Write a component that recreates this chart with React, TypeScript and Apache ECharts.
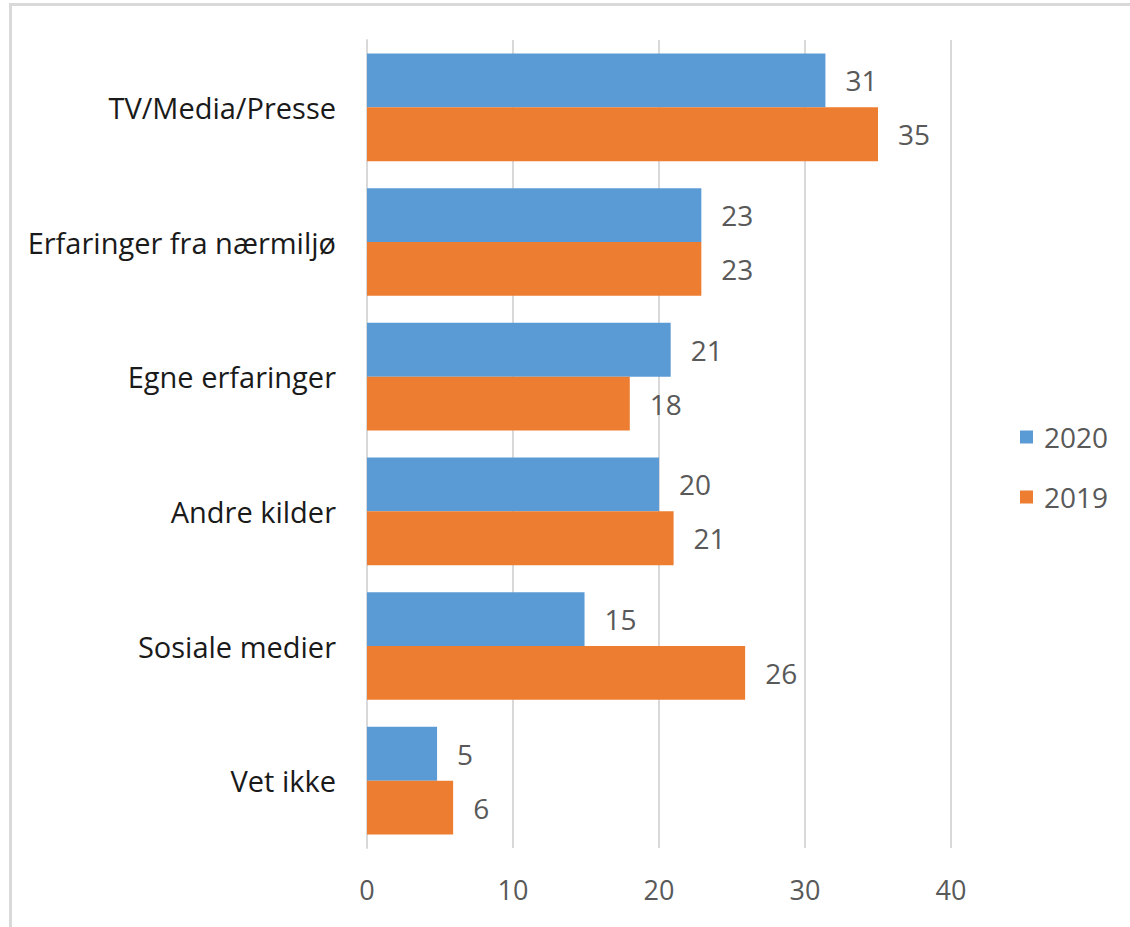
import React, { useEffect, useRef } from "react";
import * as echarts from "echarts";

const categories = [
  "TV/Media/Presse",
  "Erfaringer fra nærmiljø",
  "Egne erfaringer",
  "Andre kilder",
  "Sosiale medier",
  "Vet ikke",
];
const values2020 = [31.4, 22.9, 20.8, 20.0, 14.9, 4.8];
const values2019 = [35.0, 22.9, 18.0, 21.0, 25.9, 5.9];
const seriesNames = ["2020", "2019"];
const xTicks = [0, 10, 20, 30, 40];

const FONT = "'Open Sans', 'Noto Sans', sans-serif";

export default function App() {
  const ref = useRef<HTMLDivElement>(null);
  useEffect(() => {
    document.body.style.margin = "0";
    const chart = echarts.init(ref.current!, null, { renderer: "svg" });
    const labelCfg = {
      show: true,
      position: "right" as const,
      distance: 20,
      fontSize: 28,
      color: "#595959",
      fontFamily: FONT,
      formatter: (p: any) => String(Math.round(p.value)),
    };
    chart.setOption({
      animation: false,
      backgroundColor: "#ffffff",
      graphic: [
        {
          type: "rect",
          shape: { x: 10.5, y: 4.5, width: 1300, height: 1100 },
          style: { fill: "none", stroke: "#d9d9d9", lineWidth: 3 },
          silent: true,
        },
      ],
      grid: { left: 367, right: 179, top: 40, bottom: 79, containLabel: false },
      legend: {
        orient: "vertical",
        left: 1020,
        top: 423,
        padding: 0,
        itemWidth: 13,
        itemHeight: 13,
        itemGap: 32,
        icon: "rect",
        textStyle: {
          fontSize: 28,
          lineHeight: 28,
          color: "#595959",
          fontFamily: FONT,
          padding: [0, 0, 0, 6],
        },
        data: seriesNames,
      },
      xAxis: {
        type: "value",
        min: xTicks[0],
        max: xTicks[xTicks.length - 1],
        interval: 10,
        axisLine: { show: false },
        axisTick: { show: false },
        splitLine: { lineStyle: { color: "#d9d9d9", width: 2 } },
        axisLabel: { fontSize: 27, color: "#595959", fontFamily: FONT, margin: 28 },
      },
      yAxis: {
        type: "category",
        inverse: true,
        data: categories,
        axisLine: { show: true, lineStyle: { color: "#d9d9d9", width: 2 } },
        axisTick: { show: false },
        axisLabel: { fontSize: 29, color: "#1a1a1a", fontFamily: FONT, margin: 31 },
      },
      series: [
        {
          name: seriesNames[0],
          type: "bar",
          data: values2020,
          itemStyle: { color: "#5b9bd5" },
          barGap: "0%",
          barCategoryGap: "20%",
          label: labelCfg,
        },
        {
          name: seriesNames[1],
          type: "bar",
          data: values2019,
          itemStyle: { color: "#ed7d31" },
          barGap: "0%",
          barCategoryGap: "20%",
          label: labelCfg,
        },
      ],
    });
    return () => chart.dispose();
  }, []);
  return <div ref={ref} style={{ width: 1130, height: 927 }} />;
}
